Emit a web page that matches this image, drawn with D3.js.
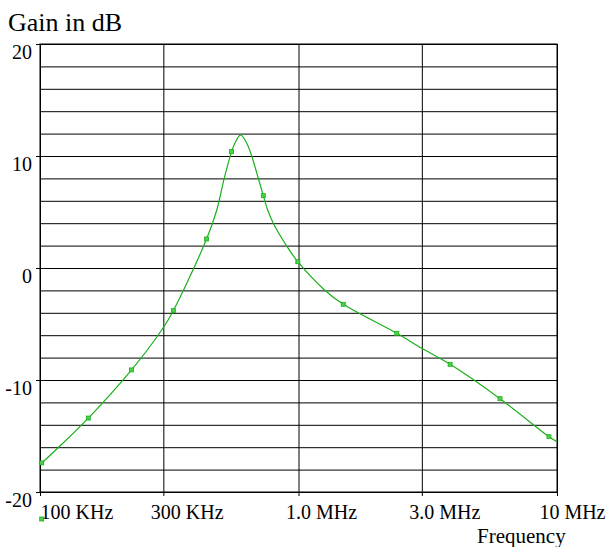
<!DOCTYPE html>
<html>
<head>
<meta charset="utf-8">
<script src="https://cdn.jsdelivr.net/npm/d3@7"></script>
<style>
  html, body { margin: 0; padding: 0; background: #fff; }
</style>
</head>
<body>
<div id="chart"></div>
<script>
// frequency axis ticks
const freqTicks = [1e5, 3e5, 1e6, 3e6, 1e7];
const freqTickLabels = ["100 KHz", "300 KHz", "1.0 MHz", "3.0 MHz", "10 MHz"];
const gainTicks = [-20, -10, 0, 10, 20];

// traced response (Hz, dB)
const curveFreq = [1.00e5, 1.015e5, 1.538e5, 2.26e5, 2.97e5, 3.28e5, 4.41e5,
  4.83e5, 5.16e5, 5.51e5, 5.68e5, 5.97e5, 6.30e5, 6.59e5, 6.99e5, 7.31e5, 7.60e5,
  7.99e5, 9.00e5, 9.94e5, 1.27e6, 1.49e6, 2.40e6, 3.00e6, 3.86e6, 6.02e6, 9.31e6, 1.00e7];
const curveGain = [-17.5, -17.4, -13.4, -9.1, -5.47, -3.81, 2.59,
  5.18, 8.01, 10.39, 11.16, 11.88, 11.16, 10.0, 8.01, 6.46, 5.18,
  3.99, 1.96, 0.56, -2.03, -3.24, -5.83, -7.17, -8.6, -11.67, -15.06, -15.5];

// sample markers on the trace
const markFreq = [1.015e5, 1.538e5, 2.26e5, 3.28e5, 4.41e5, 5.51e5, 7.31e5, 9.94e5, 1.49e6, 2.40e6, 3.86e6, 6.02e6, 9.31e6];
const markGain = [-17.4, -13.4, -9.1, -3.81, 2.59, 10.39, 6.46, 0.56, -3.24, -5.83, -8.6, -11.67, -15.06];

const width = 607;
const height = 547;
const marginTop = 44;
const marginRight = 50;
const marginBottom = 55;
const marginLeft = 40;
const plotW = width - marginLeft - marginRight;
const plotH = height - marginTop - marginBottom;
const green = "#19b019";
const serif = "Liberation Serif";

const x = d3.scaleLog()
  .domain([1e5, 1e7])
  .range([marginLeft, width - marginRight]);

const y = d3.scaleLinear()
  .domain([-20, 20])
  .range([height - marginBottom, marginTop]);

const svg = d3.select("#chart").append("svg")
  .attr("width", width)
  .attr("height", height)
  .attr("viewBox", [0, 0, width, height])
  .attr("font-family", serif)
  .style("display", "block");

// horizontal grid every 2 dB
svg.append("g")
    .attr("transform", `translate(${marginLeft},0)`)
    .call(d3.axisLeft(y).tickValues(d3.range(-20, 21, 2)).tickSize(-plotW).tickFormat(""))
    .call(g => g.select(".domain").remove())
    .call(g => g.selectAll(".tick line").attr("stroke", "#000"));

// vertical grid
svg.append("g")
    .attr("transform", `translate(0,${height - marginBottom})`)
    .call(d3.axisBottom(x).tickValues(freqTicks).tickSize(-plotH).tickFormat(""))
    .call(g => g.select(".domain").remove())
    .call(g => g.selectAll(".tick line").attr("stroke", "#000"));

// frame
svg.append("rect")
    .attr("x", marginLeft)
    .attr("y", marginTop)
    .attr("width", plotW)
    .attr("height", plotH)
    .attr("fill", "none")
    .attr("stroke", "#000");

// y axis labels
svg.append("g")
    .attr("transform", `translate(${marginLeft},0)`)
    .call(d3.axisLeft(y).tickValues(gainTicks).tickSize(4).tickPadding(4).tickFormat(d => String(d)))
    .call(g => g.select(".domain").remove())
    .call(g => g.selectAll(".tick line").attr("stroke", "#000"))
    .call(g => g.selectAll(".tick text")
      .attr("fill", "#000")
      .attr("font-family", serif)
      .attr("font-size", 20)
      .attr("dy", "0.7em"));

// x axis labels
const xAxis = svg.append("g")
    .attr("transform", `translate(0,${height - marginBottom})`)
    .call(d3.axisBottom(x).tickValues(freqTicks).tickSize(4).tickFormat((d, i) => freqTickLabels[i]))
    .call(g => g.select(".domain").remove())
    .call(g => g.selectAll(".tick line").attr("stroke", "#000"));

xAxis.selectAll(".tick text")
    .attr("fill", "#000")
    .attr("font-family", serif)
    .attr("font-size", 20)
    .attr("text-anchor", "start")
    .attr("y", 27)
    .attr("dy", 0)
    .each(function(d) {
      const tx = x(d);
      const len = this.getComputedTextLength();
      let dx = Math.max(marginLeft - tx, -13);
      if (tx + dx + len > width - 2) dx = width - 2 - len - tx;
      d3.select(this).attr("x", dx);
    });

// response trace
const pts = curveFreq.map((f, i) => [x(f), y(curveGain[i])]);
svg.append("path")
    .attr("d", d3.line().curve(d3.curveCatmullRom.alpha(0.5))(pts))
    .attr("fill", "none")
    .attr("stroke", green)
    .attr("stroke-width", 1.2);

svg.append("g")
  .selectAll("rect")
  .data(markFreq)
  .join("rect")
    .attr("x", d => x(d) - 2)
    .attr("y", (d, i) => y(markGain[i]) - 2)
    .attr("width", 4)
    .attr("height", 4)
    .attr("fill", "#4cd04c")
    .attr("stroke", green)
    .attr("stroke-width", 0.8);

// legend symbol under the axis
svg.append("rect")
    .attr("x", x(markFreq[0]) - 2)
    .attr("y", height - marginBottom + 25)
    .attr("width", 4)
    .attr("height", 4)
    .attr("fill", "#4cd04c")
    .attr("stroke", green)
    .attr("stroke-width", 0.8);

svg.append("text")
    .attr("x", 8)
    .attr("y", 31)
    .attr("font-family", serif)
    .attr("font-size", 26)
    .attr("fill", "#000")
    .text("Gain in dB");

svg.append("text")
    .attr("x", 477)
    .attr("y", 543)
    .attr("font-family", serif)
    .attr("font-size", 21)
    .attr("fill", "#000")
    .text("Frequency");
</script>
</body>
</html>
